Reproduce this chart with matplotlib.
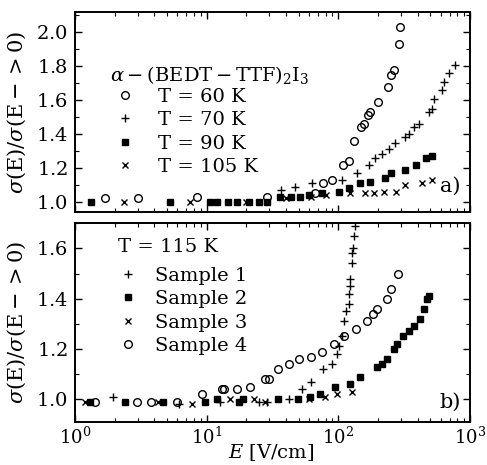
import matplotlib
matplotlib.use("Agg")
import matplotlib.pyplot as plt
from matplotlib.ticker import MultipleLocator, LogLocator, NullFormatter

plt.rcParams['font.family'] = 'DejaVu Serif'
plt.rcParams['mathtext.fontset'] = 'dejavuserif'
plt.rcParams['axes.formatter.use_mathtext'] = True

# ---- Panel a) data ----
t60_x = [1.69, 3.0, 8.4, 28.7, 66, 76, 89, 108, 120, 131, 148, 157, 167, 173, 200, 238, 250, 264, 290, 294]
t60_y = [1.02, 1.02, 1.03, 1.03, 1.05, 1.11, 1.13, 1.22, 1.24, 1.36, 1.44, 1.46, 1.51, 1.53, 1.59, 1.68, 1.75, 1.78, 1.93, 2.03]
t70_x = [36.6, 47, 63, 106, 139, 171, 190, 214, 242, 269, 320, 344, 375, 409, 490, 512, 532, 612, 632, 692, 768]
t70_y = [1.07, 1.09, 1.11, 1.13, 1.17, 1.22, 1.26, 1.28, 1.31, 1.35, 1.38, 1.40, 1.44, 1.46, 1.53, 1.55, 1.61, 1.66, 1.71, 1.76, 1.81]
t90_x = [1.32, 5.3, 10.6, 12.0, 14.5, 17.0, 21, 25, 28.7, 36, 44, 51, 60, 75, 101, 120, 146, 173, 226, 251, 321, 387, 462, 512]
t90_y = [1.0, 1.0, 1.0, 1.0, 1.0, 1.0, 1.0, 1.0, 1.0, 1.03, 1.03, 1.03, 1.04, 1.05, 1.06, 1.08, 1.11, 1.12, 1.14, 1.17, 1.19, 1.22, 1.26, 1.27]
t105_x = [2.36, 7.5, 20, 40, 62, 80, 122, 159, 186, 222, 274, 321, 431, 512]
t105_y = [1.0, 1.0, 1.0, 1.02, 1.03, 1.04, 1.05, 1.05, 1.05, 1.06, 1.06, 1.10, 1.11, 1.13]

# ---- Panel b) data ----
s1_x = [1.94, 6.2, 12.6, 25, 28.7, 42, 53, 62, 76, 89, 97, 101, 106, 110, 114, 120, 121, 122, 123, 127, 128, 129, 131, 134]
s1_y = [1.01, 0.98, 0.99, 0.99, 0.99, 1.00, 1.04, 1.07, 1.12, 1.14, 1.18, 1.21, 1.25, 1.31, 1.35, 1.38, 1.42, 1.45, 1.48, 1.54, 1.58, 1.60, 1.65, 1.69]
s2_x = [1.30, 2.4, 4.66, 9.7, 12, 17.6, 18.9, 34.6, 49, 61, 72.5, 94, 122, 146, 196, 214, 234, 265, 279, 310, 344, 375, 417, 447, 470, 488]
s2_y = [0.99, 0.99, 0.99, 0.99, 1.0, 0.99, 1.0, 1.0, 1.0, 1.01, 1.02, 1.05, 1.06, 1.09, 1.13, 1.14, 1.16, 1.20, 1.22, 1.25, 1.27, 1.29, 1.32, 1.36, 1.40, 1.41]
s3_x = [1.19, 4.3, 7.7, 15, 23, 27.7, 60, 79, 98, 127]
s3_y = [0.99, 0.99, 0.98, 1.0, 1.0, 0.99, 1.0, 1.01, 1.02, 1.03]
s4_x = [1.42, 2.96, 3.8, 5.95, 9.2, 13, 13.5, 17, 21.3, 27.7, 29.7, 34.7, 42, 50, 62, 75, 93, 110, 136, 165, 183, 196, 234, 251, 284]
s4_y = [0.99, 0.99, 0.99, 0.99, 1.02, 1.04, 1.04, 1.04, 1.05, 1.08, 1.08, 1.12, 1.14, 1.16, 1.17, 1.19, 1.22, 1.25, 1.28, 1.31, 1.34, 1.36, 1.40, 1.44, 1.50]

fig = plt.figure(figsize=(4.87, 4.65), dpi=100)
axa = fig.add_axes([0.154, 0.544, 0.811, 0.430])
axb = fig.add_axes([0.154, 0.0925, 0.811, 0.4275])

FS = 14
ms = 5.5
kw = dict(color='black', linestyle='none')

axa.plot(t60_x, t60_y, marker='o', mfc='none', mew=1.0, ms=ms, label='T = 60 K', **kw)
axa.plot(t70_x, t70_y, marker='+', mew=1.0, ms=ms, label='T = 70 K', **kw)
axa.plot(t90_x, t90_y, marker='s', ms=ms - 1, label='T = 90 K', **kw)
axa.plot(t105_x, t105_y, marker='x', mew=1.0, ms=ms - 1.5, label='T = 105 K', **kw)

axb.plot(s1_x, s1_y, marker='+', mew=1.0, ms=ms, label='Sample 1', **kw)
axb.plot(s2_x, s2_y, marker='s', ms=ms - 1, label='Sample 2', **kw)
axb.plot(s3_x, s3_y, marker='x', mew=1.0, ms=ms - 1.5, label='Sample 3', **kw)
axb.plot(s4_x, s4_y, marker='o', mfc='none', mew=1.0, ms=ms, label='Sample 4', **kw)

for ax in (axa, axb):
    ax.set_xscale('log')
    ax.set_xlim(1, 1000)
    ax.tick_params(which='both', direction='in', top=True, right=True, labelsize=FS)
    ax.tick_params(which='major', length=5, width=1.0, pad=5)
    ax.tick_params(which='minor', length=3, width=0.8)
    ax.tick_params(axis='x', which='major', labelsize=13, pad=3)
    ax.xaxis.set_major_locator(LogLocator(base=10))
    ax.xaxis.set_minor_locator(LogLocator(base=10, subs=range(2, 10)))
    ax.xaxis.set_minor_formatter(NullFormatter())
    for s in ax.spines.values():
        s.set_linewidth(1.4)
    ax.set_ylabel(r'$\sigma(\mathrm{E})/\sigma(\mathrm{E}->0)$', fontsize=15)
    ax.yaxis.set_label_coords(-0.147, 0.5)
    ax.yaxis.label.set_va('center')

axa.set_ylim(0.94, 2.12)
axa.yaxis.set_major_locator(MultipleLocator(0.2))
axa.yaxis.set_minor_locator(MultipleLocator(0.1))
axa.tick_params(axis='x', labelbottom=False)

axb.set_ylim(0.91, 1.70)
axb.yaxis.set_major_locator(MultipleLocator(0.2))
axb.yaxis.set_minor_locator(MultipleLocator(0.1))
axb.set_xlabel(r'$E\ [\mathrm{V/cm}]$', fontsize=FS)
axb.xaxis.set_label_coords(0.496, -0.155)
axb.xaxis.label.set_va('center')

axa.text(0.088, 0.685, r'$\alpha-(\mathrm{BEDT-TTF})_2\mathrm{I}_3$', transform=axa.transAxes,
         fontsize=FS, va='center')
axa.legend(loc='upper left', bbox_to_anchor=(0.083, 0.66), frameon=False, fontsize=FS,
           handlelength=1.0, handletextpad=1.2, labelspacing=0.28, borderaxespad=0)
axa.text(0.95, 0.10, 'a)', transform=axa.transAxes, fontsize=FS + 1, ha='center')

axb.text(0.11, 0.878, r'T = 115 K', transform=axb.transAxes, fontsize=FS, va='center')
axb.legend(loc='upper left', bbox_to_anchor=(0.09, 0.82), frameon=False, fontsize=FS,
           handlelength=1.0, handletextpad=0.9, labelspacing=0.28, borderaxespad=0)
axb.text(0.95, 0.07, 'b)', transform=axb.transAxes, fontsize=FS + 1, ha='center')

fig.savefig('out.png', dpi=100)
